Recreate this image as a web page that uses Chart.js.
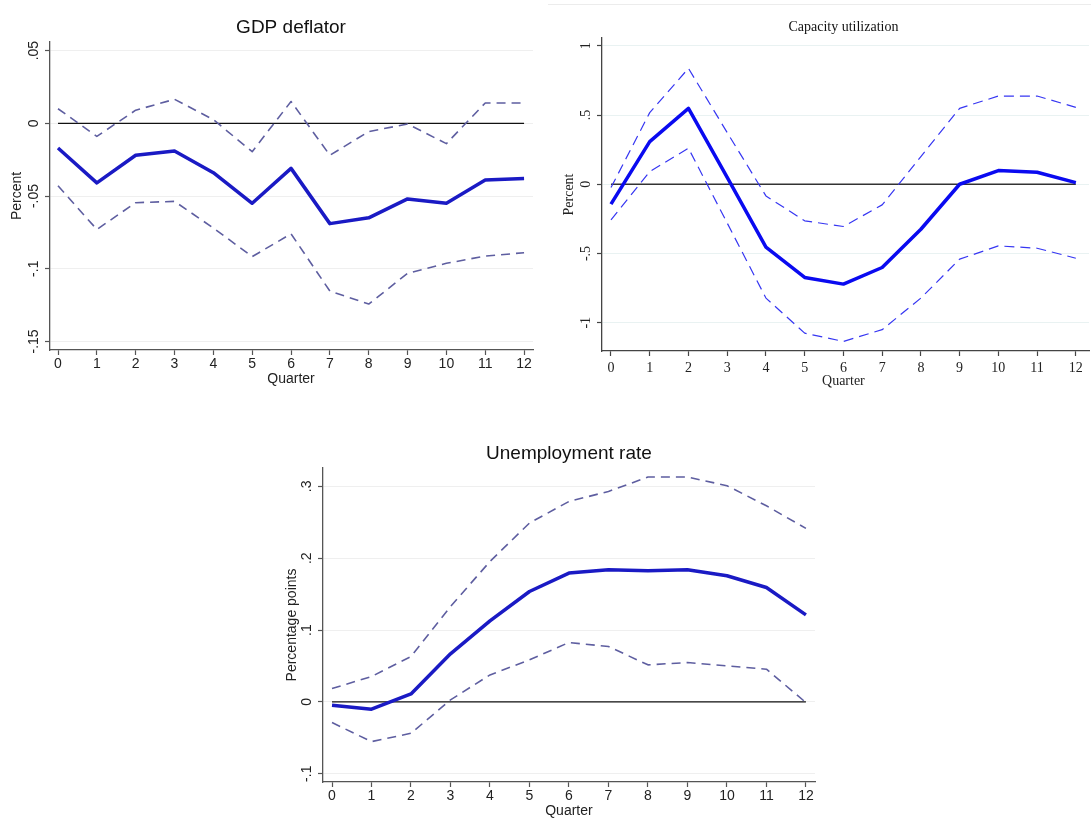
<!DOCTYPE html>
<html lang="en">
<head>
  <meta charset="UTF-8" />
  <title>Impulse responses</title>
  <script src="https://cdn.jsdelivr.net/npm/chart.js"></script>
  <style>
    body {
      margin: 0;
      background: #fff;
      width: 1091px;
      height: 823px;
      position: relative;
      overflow: hidden;
    }
    canvas { position: absolute; }
    #gdp { left: 0; top: 0; }
    #cap { left: 545px; top: 0; }
    #unemp { left: 270px; top: 430px; }
    .rule {
      position: absolute;
      left: 548px;
      top: 4px;
      width: 543px;
      height: 1px;
      background: #ececec;
    }
  </style>
</head>
<body>
  <div class="rule"></div>
  <canvas id="gdp" width="545" height="400"></canvas>
  <canvas id="cap" width="546" height="400"></canvas>
  <canvas id="unemp" width="560" height="393"></canvas>

  <script>
    const quarters = [0, 1, 2, 3, 4, 5, 6, 7, 8, 9, 10, 11, 12];
    const zeroLine = [0, 0, 0, 0, 0, 0, 0, 0, 0, 0, 0, 0, 0];

    // GDP deflator
    const gdpIrf   = [-0.017, -0.041, -0.022, -0.019, -0.034, -0.055, -0.031, -0.069, -0.065, -0.052, -0.055, -0.039, -0.038];
    const gdpUpper = [0.010, -0.009, 0.009, 0.0165, 0.0025, -0.0195, 0.015, -0.022, -0.0057, -0.0005, -0.014, 0.014, 0.014];
    const gdpLower = [-0.043, -0.073, -0.0546, -0.0537, -0.072, -0.0917, -0.076, -0.1154, -0.1243, -0.1032, -0.0963, -0.0913, -0.089];
    const gdpTicks = [0.05, 0, -0.05, -0.1, -0.15];
    const gdpTickLabels = ['.05', '0', '-.05', '-.1', '-.15'];

    // Capacity utilization
    const capIrf   = [-0.144, 0.308, 0.548, 0.05, -0.454, -0.673, -0.721, -0.601, -0.325, 0.0, 0.099, 0.087, 0.012];
    const capUpper = [-0.024, 0.517, 0.837, 0.373, -0.084, -0.264, -0.305, -0.149, 0.2, 0.548, 0.637, 0.637, 0.555];
    const capLower = [-0.257, 0.091, 0.26, -0.28, -0.822, -1.075, -1.135, -1.05, -0.822, -0.541, -0.445, -0.462, -0.534];
    const capTicks = [1, 0.5, 0, -0.5, -1];
    const capTickLabels = ['1', '.5', '0', '-.5', '-1'];

    // Unemployment rate
    const unIrf   = [-0.0046, -0.0102, 0.0111, 0.0669, 0.1129, 0.1537, 0.1793, 0.1839, 0.1825, 0.1839, 0.1756, 0.1593, 0.1212];
    const unUpper = [0.0186, 0.0353, 0.0632, 0.1328, 0.1955, 0.249, 0.279, 0.293, 0.313, 0.313, 0.301, 0.273, 0.2415];
    const unLower = [-0.0288, -0.0553, -0.0437, 0.0028, 0.0376, 0.0585, 0.0827, 0.0771, 0.0516, 0.0548, 0.0502, 0.0455, -0.0009];
    const unTicks = [0.3, 0.2, 0.1, 0, -0.1];
    const unTickLabels = ['.3', '.2', '.1', '0', '-.1'];

    const sansStyle = {
      font: "'Liberation Sans', Arial, sans-serif",
      titleSize: 19, tickSize: 14, axisTitleSize: 14,
      irfColor: '#1a1ac4', bandColor: '#5e5ea0',
      irfWidth: 3.5, bandWidth: 1.6, dash: [9, 6],
      zeroColor: '#111', zeroWidth: 1.3,
      gridColor: '#efefef', axisColor: '#555', textColor: '#222'
    };

    const serifStyle = {
      font: "'Liberation Serif', 'Times New Roman', serif",
      titleSize: 14, tickSize: 14, axisTitleSize: 14,
      irfColor: '#0a0af0', bandColor: '#3636f2',
      irfWidth: 3.5, bandWidth: 1.2, dash: [10, 6],
      zeroColor: '#333', zeroWidth: 1.5,
      gridColor: '#e9f2f2', axisColor: '#444', textColor: '#222'
    };

    function points(values) {
      return quarters.map((q, i) => ({ x: q, y: values[i] }));
    }

    // draws titles and tick labels at fixed spots, using the chart's own scales
    function textPlugin(p) {
      return {
        id: 'panelText',
        afterDraw(chart) {
          const ctx = chart.ctx;
          const s = p.style;
          const xs = chart.scales.x;
          const ys = chart.scales.y;
          const area = chart.chartArea;
          const ox = p.box.left, oy = p.box.top;
          const midX = xs.getPixelForValue(6);
          ctx.save();
          ctx.fillStyle = s.textColor;
          ctx.textAlign = 'center';
          ctx.textBaseline = 'middle';

          ctx.font = s.titleSize + 'px ' + s.font;
          ctx.fillStyle = '#111';
          ctx.fillText(p.title, midX, p.text.titleY - oy);
          ctx.fillStyle = s.textColor;

          ctx.font = s.tickSize + 'px ' + s.font;
          quarters.forEach(q => {
            ctx.fillText(String(q), xs.getPixelForValue(q), p.text.xTickY - oy);
          });

          p.yTicks.forEach((v, i) => {
            ctx.save();
            ctx.translate(p.text.yTickX - ox, ys.getPixelForValue(v));
            ctx.rotate(-Math.PI / 2);
            ctx.fillText(p.yTickLabels[i], 0, 0);
            ctx.restore();
          });

          ctx.font = s.axisTitleSize + 'px ' + s.font;
          ctx.fillText('Quarter', midX, p.text.xTitleY - oy);
          ctx.save();
          ctx.translate(p.text.yTitleX - ox, (area.top + area.bottom) / 2);
          ctx.rotate(-Math.PI / 2);
          ctx.fillText(p.yTitle, 0, 0);
          ctx.restore();

          ctx.restore();
        }
      };
    }

    function makePanel(p) {
      const s = p.style;
      const ctx = document.getElementById(p.id).getContext('2d');
      return new Chart(ctx, {
        type: 'line',
        data: {
          datasets: [
            { data: points(p.irf), borderColor: s.irfColor, borderWidth: s.irfWidth, order: 0 },
            { data: points(p.upper), borderColor: s.bandColor, borderWidth: s.bandWidth, borderDash: s.dash, order: 1 },
            { data: points(p.lower), borderColor: s.bandColor, borderWidth: s.bandWidth, borderDash: s.dash, order: 1 },
            { data: points(zeroLine), borderColor: s.zeroColor, borderWidth: s.zeroWidth, order: 2 }
          ]
        },
        options: {
          responsive: false,
          animation: false,
          devicePixelRatio: 1,
          elements: {
            point: { radius: 0 },
            line: { tension: 0, fill: false, borderCapStyle: 'butt', borderJoinStyle: 'round' }
          },
          layout: {
            padding: {
              left: 0,
              top: p.area.top - p.box.top,
              right: p.box.left + p.box.w - p.area.right,
              bottom: 0
            }
          },
          plugins: {
            legend: { display: false },
            tooltip: { enabled: false },
            title: { display: false }
          },
          scales: {
            x: {
              type: 'linear',
              min: p.xMin,
              max: p.xMax,
              afterBuildTicks: sc => { sc.ticks = quarters.map(v => ({ value: v })); },
              afterFit: sc => { sc.height = p.box.top + p.box.h - p.area.bottom; },
              ticks: { display: false },
              grid: { drawOnChartArea: false, drawTicks: true, tickLength: 5, tickColor: s.axisColor, tickWidth: 1.2 },
              border: { color: s.axisColor, width: 1.3 }
            },
            y: {
              type: 'linear',
              min: p.yMin,
              max: p.yMax,
              afterBuildTicks: sc => { sc.ticks = p.yTicks.map(v => ({ value: v })); },
              afterFit: sc => { sc.width = p.area.left - p.box.left; },
              ticks: { display: false },
              grid: { color: s.gridColor, lineWidth: 1, drawTicks: true, tickLength: 5, tickColor: s.axisColor, tickWidth: 1.2 },
              border: { color: s.axisColor, width: 1.3 }
            }
          }
        },
        plugins: [textPlugin(p)]
      });
    }

    makePanel({
      id: 'gdp',
      box: { left: 0, top: 0, w: 545, h: 400 },
      area: { left: 50, top: 42, right: 533, bottom: 350 },
      xMin: -0.206, xMax: 12.23, yMin: -0.1559, yMax: 0.0559,
      irf: gdpIrf, upper: gdpUpper, lower: gdpLower,
      yTicks: gdpTicks, yTickLabels: gdpTickLabels,
      title: 'GDP deflator', yTitle: 'Percent',
      style: sansStyle,
      text: { titleY: 28, yTickX: 34, yTitleX: 17, xTickY: 364, xTitleY: 379 }
    });

    makePanel({
      id: 'cap',
      box: { left: 545, top: 0, w: 546, h: 400 },
      area: { left: 602, top: 38, right: 1089, bottom: 351 },
      xMin: -0.232, xMax: 12.34, yMin: -1.204, yMax: 1.056,
      irf: capIrf, upper: capUpper, lower: capLower,
      yTicks: capTicks, yTickLabels: capTickLabels,
      title: 'Capacity utilization', yTitle: 'Percent',
      style: serifStyle,
      text: { titleY: 27, yTickX: 586, yTitleX: 569, xTickY: 368, xTitleY: 381 }
    });

    makePanel({
      id: 'unemp',
      box: { left: 270, top: 430, w: 560, h: 393 },
      area: { left: 323, top: 468, right: 815, bottom: 782 },
      xMin: -0.228, xMax: 12.23, yMin: -0.1115, yMax: 0.3256,
      irf: unIrf, upper: unUpper, lower: unLower,
      yTicks: unTicks, yTickLabels: unTickLabels,
      title: 'Unemployment rate', yTitle: 'Percentage points',
      style: sansStyle,
      text: { titleY: 454, yTickX: 307, yTitleX: 292, xTickY: 796, xTitleY: 811 }
    });
  </script>
</body>
</html>
